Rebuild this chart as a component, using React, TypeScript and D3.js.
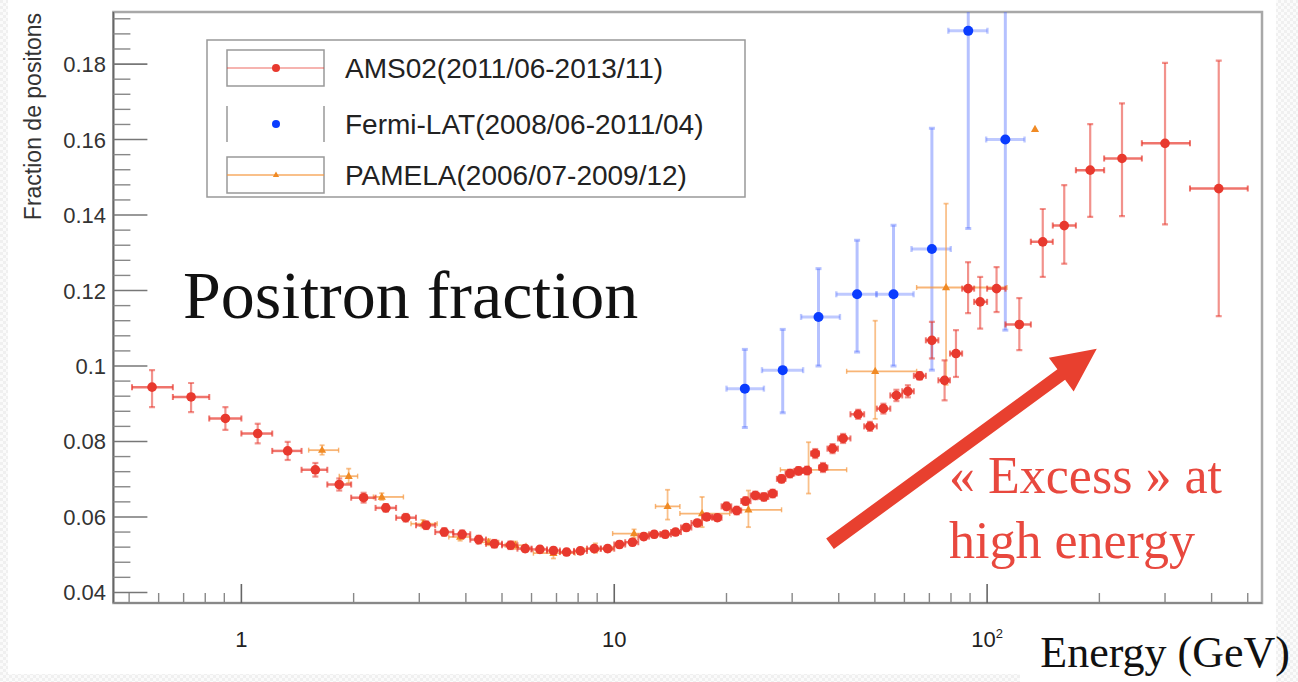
import React from "react";
import * as d3 from "d3";

// ---------- DATA ----------
// AMS-02 positron fraction (energy GeV, fraction)
const AMS_E = [0.576,0.733,0.906,1.106,1.331,1.579,1.83,2.127,2.44,2.76,3.13,3.50,3.91,4.33,4.77,5.27,5.77,6.32,6.87,7.45,8.11,8.84,9.60,10.33,11.19,12.0,12.8,13.7,14.6,15.6,16.7,17.7,18.9,20.0,21.3,22.5,23.9,25.2,26.6,28.1,29.6,31.2,32.9,34.6,36.3,38.5,41.1,45.1,48.5,52.7,57.1,61.3,65.9,71.1,76.9,82.5,88.9,95.8,106,122,141,161,189,230,300,418];
const AMS_F = [0.0944,0.0918,0.0861,0.0821,0.0775,0.0725,0.0686,0.0651,0.0624,0.0598,0.0578,0.0560,0.0554,0.0540,0.0529,0.0525,0.0516,0.0514,0.0511,0.0507,0.0510,0.0516,0.0516,0.0527,0.0533,0.0548,0.0554,0.0554,0.0560,0.0572,0.0584,0.0600,0.0598,0.0628,0.0617,0.0642,0.0657,0.0653,0.0662,0.0701,0.0715,0.0722,0.0723,0.0768,0.0731,0.0781,0.0808,0.0872,0.0840,0.0887,0.0922,0.0933,0.0974,0.1068,0.0962,0.1033,0.1205,0.1170,0.1205,0.1110,0.1329,0.1372,0.1519,0.1550,0.1590,0.1470];
const AMS_ERR_LO = [0.0053,0.0040,0.0030,0.0026,0.0024,0.0018,0.0016,0.0013,0.0010,0.0010,0.0010,0.0010,0.0010,0.0010,0.0010,0.0010,0.0008,0.0008,0.0008,0.0008,0.0008,0.0008,0.0008,0.0008,0.0008,0.0008,0.0008,0.0008,0.0008,0.0008,0.0008,0.0008,0.0008,0.0010,0.0010,0.0010,0.0010,0.0010,0.0010,0.0010,0.0010,0.0010,0.0010,0.0012,0.0012,0.0012,0.0012,0.0012,0.0012,0.0013,0.0015,0.0016,0.0010,0.0048,0.0053,0.0062,0.0065,0.0071,0.0062,0.0068,0.0093,0.0101,0.0124,0.0153,0.0215,0.0338];
const AMS_ERR_HI = [0.0045,0.0037,0.0030,0.0026,0.0024,0.0018,0.0016,0.0013,0.0010,0.0010,0.0010,0.0010,0.0010,0.0010,0.0010,0.0010,0.0008,0.0008,0.0008,0.0008,0.0008,0.0008,0.0008,0.0008,0.0008,0.0008,0.0008,0.0008,0.0008,0.0008,0.0008,0.0008,0.0008,0.0010,0.0010,0.0010,0.0010,0.0010,0.0010,0.0010,0.0010,0.0010,0.0010,0.0012,0.0012,0.0012,0.0012,0.0012,0.0012,0.0013,0.0015,0.0016,0.0010,0.0049,0.0053,0.0062,0.0070,0.0066,0.0057,0.0070,0.0087,0.0107,0.0122,0.0146,0.0213,0.0339];
// AMS energy bin edges (67 edges for 66 bins)
const AMS_EDGES = [0.509,0.655,0.82,1.0,1.21,1.45,1.70,1.97,2.29,2.60,2.94,3.31,3.70,4.11,4.53,5.0,5.5,6.0,6.6,7.15,7.8,8.45,9.2,10.0,10.7,11.6,12.4,13.3,14.2,15.1,16.1,17.2,18.3,19.4,20.6,21.9,23.2,24.5,25.9,27.3,28.8,30.4,32.0,33.7,35.4,37.3,39.8,43.0,46.8,50.6,55.0,59.2,63.6,68.5,74.0,79.5,85.7,92.3,100,112,131,150,173,206,260,350,500];

// Fermi-LAT
const FERMI_E = [22.4,28.3,35.3,44.8,56.1,71.1,89.0,111.9];
const FERMI_F = [0.094,0.0989,0.113,0.119,0.119,0.131,0.1888,0.160];
const FERMI_F_LO = [0.0837,0.0876,0.100,0.1037,0.100,0.0989,0.1364,0.1095];
const FERMI_F_HI = [0.1044,0.1097,0.1258,0.1333,0.1373,0.163,0.25,0.25];
const FERMI_E_LO = [20.0,24.9,31.7,39.4,50.5,62.7,78.7,99.4];
const FERMI_E_HI = [25.2,32.1,40.3,50.5,63.5,79.9,100.2,126];

// PAMELA
const PAM_E = [1.646,1.94,2.38,3.07,3.86,4.6,5.43,6.87,8.9,11.3,13.9,17.2,22.9,33.2,50.1,77.6,134.4];
const PAM_F = [0.0777,0.0708,0.0653,0.0582,0.0547,0.0533,0.0525,0.0504,0.0516,0.0556,0.0628,0.0609,0.0619,0.0725,0.0986,0.1208,0.1627];
const PAM_E_LO = [1.515,1.83,2.26,2.85,3.6,4.3,5.1,6.07,8.1,9.9,12.9,15.0,20.4,27.9,42,64.7,134.4];
const PAM_E_HI = [1.823,2.05,2.72,3.35,4.1,4.9,5.8,7.85,9.9,12.6,15.0,20.4,28.1,42,64.7,113,134.4];
const PAM_F_LO = [0.0765,0.0690,0.0645,0.0572,0.0537,0.0525,0.0515,0.0490,0.0505,0.0545,0.0593,0.0573,0.0573,0.0662,0.086,0.095,0.1627];
const PAM_F_HI = [0.0790,0.0728,0.0663,0.0592,0.0557,0.0541,0.0535,0.0518,0.0530,0.0567,0.0672,0.0653,0.0670,0.0798,0.112,0.143,0.1627];

// Axis ticks
const Y_TICKS = [0.04,0.06,0.08,0.10,0.12,0.14,0.16,0.18];
const Y_LABELS = ["0.04","0.06","0.08","0.1","0.12","0.14","0.16","0.18"];
const X_MAJOR = [1,10,100];
const X_LABELS = ["1","10","10"];
const X_SUP = ["","","2"];

const LEGEND = ["AMS02(2011/06-2013/11)","Fermi-LAT(2008/06-2011/04)","PAMELA(2006/07-2009/12)"];

// ---------- LAYOUT ----------
const W = 1298, H = 682;
const FL = 113.4, FR = 1262, FT = 12, FB = 603;
const x = d3.scaleLog().domain([0.4537, 546]).range([FL, FR]);
const y = d3.scaleLinear().domain([0.0372, 0.1938]).range([FB, FT]);

const RED = "#e8392e";
const BLUE = "#0a3cff";
const ORANGE = "#f08a24";
const SANS = "'Liberation Sans', Arial, Helvetica, sans-serif";
const SERIF = "'Liberation Serif', 'Times New Roman', Times, serif";

function ErrCross({ cx, cy, x0, x1, y0, y1, hColor, vColor, hw, vw, cap }: any) {
  const hasH = Math.abs(x1 - x0) > 0.5;
  const hasV = Math.abs(y1 - y0) > 0.5;
  return (
    <g>
      {hasH && <line x1={x0} x2={x1} y1={cy} y2={cy} stroke={hColor} strokeWidth={hw} />}
      {hasV && <line x1={cx} x2={cx} y1={y0} y2={y1} stroke={vColor} strokeWidth={vw} />}
      {hasV && <line x1={cx - cap} x2={cx + cap} y1={y0} y2={y0} stroke={vColor} strokeWidth={vw} />}
      {hasV && <line x1={cx - cap} x2={cx + cap} y1={y1} y2={y1} stroke={vColor} strokeWidth={vw} />}
      {hasH && <line x1={x0} x2={x0} y1={cy - cap} y2={cy + cap} stroke={hColor} strokeWidth={hw * 0.8} />}
      {hasH && <line x1={x1} x2={x1} y1={cy - cap} y2={cy + cap} stroke={hColor} strokeWidth={hw * 0.8} />}
    </g>
  );
}

function tri(cx: number, cy: number, s: number) {
  return `M${cx},${cy - s} L${cx + s * 0.9},${cy + s * 0.6} L${cx - s * 0.9},${cy + s * 0.6} Z`;
}

export default function App() {
  const minorX = x.ticks().filter((t) => !X_MAJOR.includes(t) && t > 0.4537 && t < 546);
  const minorY = d3.range(0.04, 0.1939, 0.004).filter((v) => !Y_TICKS.some((m) => Math.abs(m - v) < 1e-6));

  // arrow (annotation) in data coordinates
  const tail: [number, number] = [x(37.9), y(0.0529)];
  const tip: [number, number] = [x(196.8), y(0.1046)];
  const dx = tip[0] - tail[0], dy = tip[1] - tail[1];
  const len = Math.hypot(dx, dy);
  const ux = dx / len, uy = dy / len, px = -uy, py = ux;
  const sw = 6.5, hl = 44, hwid = 21;
  const bx = tip[0] - ux * hl, by = tip[1] - uy * hl;
  const arrowPts = [
    [tail[0] + px * sw, tail[1] + py * sw],
    [bx + px * sw, by + py * sw],
    [bx + px * hwid, by + py * hwid],
    tip,
    [bx - px * hwid, by - py * hwid],
    [bx - px * sw, by - py * sw],
    [tail[0] - px * sw, tail[1] - py * sw],
  ].map((p) => p.join(",")).join(" ");

  const legendRows = [68, 124, 175];

  return (
    <svg width={W} height={H} style={{ position: "absolute", left: 0, top: 0, display: "block", background: "#fff" }}>
      <defs>
        <clipPath id="plotclip">
          <rect x={FL} y={FT} width={FR - FL} height={FB - FT} />
        </clipPath>
        <pattern id="chk" width="6" height="6" patternUnits="userSpaceOnUse">
          <rect width="6" height="6" fill="#fbfbfb" />
          <rect width="3" height="3" fill="#f0f0f0" />
          <rect x="3" y="3" width="3" height="3" fill="#f0f0f0" />
        </pattern>
      </defs>
      <rect x={0} y={0} width={W} height={H} fill="#fff" />
      <rect x={1276} y={0} width={22} height={H} fill="url(#chk)" />
      <rect x={0} y={674} width={1020} height={8} fill="url(#chk)" />
      <rect x={0} y={0} width={8} height={H} fill="url(#chk)" />

      {/* frame */}
      <rect x={FL} y={FT} width={FR - FL} height={FB - FT} fill="#fff" stroke="#a8a8a8" strokeWidth={2.5} />
      <line x1={FL} x2={FL} y1={FT} y2={FB} stroke="#666" strokeWidth={1.6} />
      <line x1={FL} x2={FR} y1={FB} y2={FB} stroke="#888" strokeWidth={2} />

      {/* y ticks */}
      {Y_TICKS.map((v, i) => (
        <g key={"yt" + i}>
          <line x1={FL} x2={FL + 34} y1={y(v)} y2={y(v)} stroke="#777" strokeWidth={1.6} />
          <text x={106} y={y(v) + 8} textAnchor="end" fontFamily={SANS} fontSize={22} fill="#333">{Y_LABELS[i]}</text>
        </g>
      ))}
      {minorY.map((v, i) => (
        <line key={"ym" + i} x1={FL} x2={FL + 17} y1={y(v)} y2={y(v)} stroke="#888" strokeWidth={1.4} />
      ))}

      {/* x ticks */}
      {X_MAJOR.map((v, i) => (
        <g key={"xt" + i}>
          <line x1={x(v)} x2={x(v)} y1={FB} y2={FB - 19} stroke="#666" strokeWidth={1.6} />
          <text x={x(v)} y={647} textAnchor="middle" fontFamily={SANS} fontSize={22} fill="#222">
            {X_LABELS[i]}
            {X_SUP[i] && <tspan dy={-9} fontSize={13}>{X_SUP[i]}</tspan>}
          </text>
        </g>
      ))}
      {minorX.map((v, i) => (
        <line key={"xm" + i} x1={x(v)} x2={x(v)} y1={FB} y2={FB - 10} stroke="#888" strokeWidth={1.4} />
      ))}

      {/* y title */}
      <text transform="translate(41,13) rotate(-90)" textAnchor="end" fontFamily={SANS} fontSize={23} fill="#333">
        Fraction de positons
      </text>

      {/* data */}
      <g clipPath="url(#plotclip)">
        {FERMI_E.map((e, i) => (
          <g key={"f" + i}>
            <ErrCross cx={x(e)} cy={y(FERMI_F[i])} x0={x(FERMI_E_LO[i])} x1={x(FERMI_E_HI[i])}
              y0={y(FERMI_F_HI[i])} y1={y(FERMI_F_LO[i])} hColor="rgba(70,100,255,0.35)" vColor="rgba(70,100,255,0.4)" hw={3} vw={3} cap={3} />
            <circle cx={x(e)} cy={y(FERMI_F[i])} r={5} fill={BLUE} />
          </g>
        ))}
        {PAM_E.map((e, i) => (
          <g key={"p" + i}>
            <ErrCross cx={x(e)} cy={y(PAM_F[i])} x0={x(PAM_E_LO[i])} x1={x(PAM_E_HI[i])}
              y0={y(PAM_F_HI[i])} y1={y(PAM_F_LO[i])} hColor="rgba(245,150,60,0.7)" vColor="rgba(245,150,60,0.6)" hw={1.8} vw={1.8} cap={2.5} />
            <path d={tri(x(e), y(PAM_F[i]), 4.5)} fill={ORANGE} />
          </g>
        ))}
        {AMS_E.map((e, i) => (
          <g key={"a" + i}>
            <ErrCross cx={x(e)} cy={y(AMS_F[i])} x0={x(AMS_EDGES[i])} x1={x(AMS_EDGES[i + 1])}
              y0={y(AMS_F[i] + AMS_ERR_HI[i])} y1={y(AMS_F[i] - AMS_ERR_LO[i])}
              hColor="rgba(232,57,46,0.7)" vColor="rgba(232,57,46,0.55)" hw={2.5} vw={2.2} cap={3} />
            <circle cx={x(e)} cy={y(AMS_F[i])} r={4.8} fill={RED} />
          </g>
        ))}
      </g>

      {/* legend */}
      <rect x={207} y={40} width={538} height={157} fill="#fff" stroke="#999" strokeWidth={1.5} />
      {legendRows.map((cy, i) => (
        <g key={"lg" + i}>
          {i !== 1 ? (
            <rect x={227} y={cy - 18} width={97} height={36} fill="none" stroke="#999" strokeWidth={1.5} />
          ) : (
            <g>
              <line x1={227} x2={227} y1={cy - 18} y2={cy + 18} stroke="#999" strokeWidth={1.5} />
              <line x1={324} x2={324} y1={cy - 18} y2={cy + 18} stroke="#999" strokeWidth={1.5} />
            </g>
          )}
          {i === 0 && <line x1={227} x2={324} y1={cy} y2={cy} stroke="rgba(232,57,46,0.5)" strokeWidth={1.5} />}
          {i === 2 && <line x1={227} x2={324} y1={cy} y2={cy} stroke="rgba(245,150,60,0.8)" strokeWidth={1.5} />}
          {i === 0 && <circle cx={276} cy={cy} r={4} fill={RED} />}
          {i === 1 && <circle cx={276} cy={cy} r={4} fill={BLUE} />}
          {i === 2 && <path d={tri(276, cy, 3.5)} fill={ORANGE} />}
          <text x={345} y={cy + 10} fontFamily={SANS} fontSize={28} fill="#222">{LEGEND[i]}</text>
        </g>
      ))}

      {/* annotations */}
      <text x={183} y={318} fontFamily={SERIF} fontSize={68} fill="#111">Positron fraction</text>
      <polygon points={arrowPts} fill="#e8402f" />
      <text x={949} y={493} fontFamily={SERIF} fontSize={52} fill="#e8483e">« Excess » at</text>
      <text x={949} y={558} fontFamily={SERIF} fontSize={52} fill="#e8483e">high energy</text>
      <text x={1290} y={667} textAnchor="end" fontFamily={SERIF} fontSize={44} fill="#111">Energy (GeV)</text>
    </svg>
  );
}
